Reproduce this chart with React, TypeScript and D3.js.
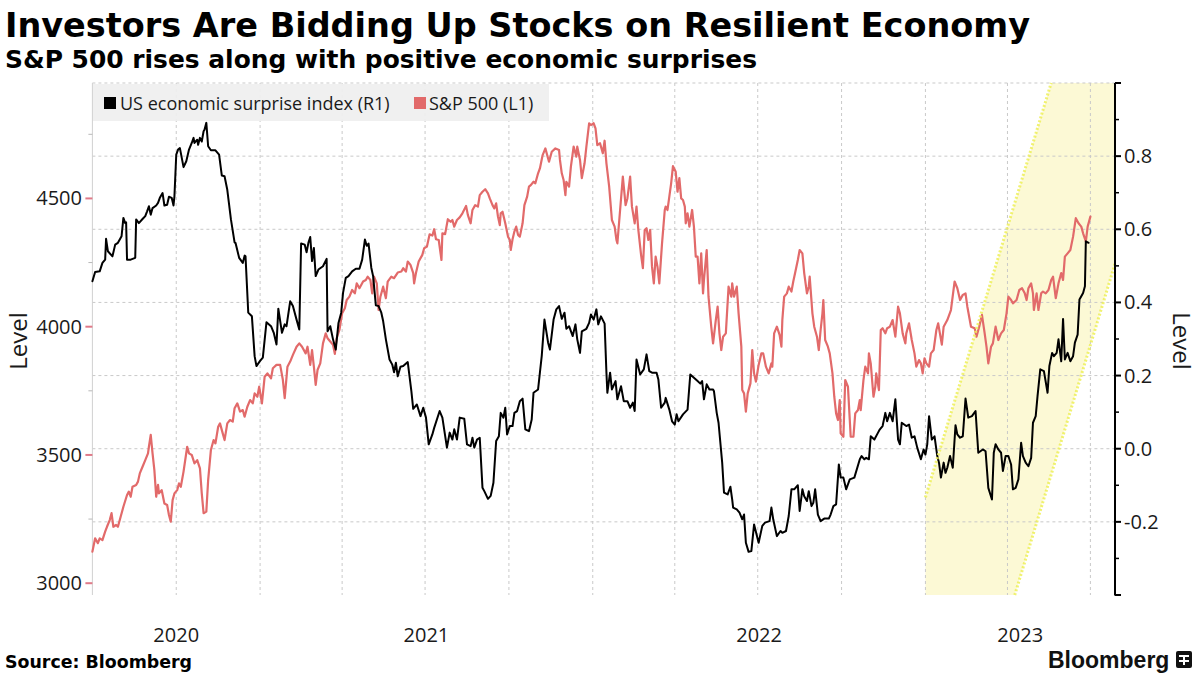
import React from "react";
import * as d3 from "d3";

const W = 1200;
const H = 675;
const M = { left: 92.4, right: 1115, top: 83, bottom: 595 };

const titleText = "Investors Are Bidding Up Stocks on Resilient Economy";
const subtitleText = "S&P 500 rises along with positive economic surprises";
const sourceText = "Source: Bloomberg";
const legendLabels = ["US economic surprise index (R1)", "S&P 500 (L1)"];
const axisTitle = "Level";

const xDomain = ["2020-07-01", "2023-07-28"];
const leftDomain = [2954, 4950];
const rightDomain = [-0.4, 1.0];
const leftMajorTicks = [3000, 3500, 4000, 4500];
const leftMinorTicks = [3250, 3750, 4250, 4750];
const rightMajorTicks = [-0.4, -0.2, 0, 0.2, 0.4, 0.6, 0.8, 1.0];
const rightLabeledTicks = [-0.2, 0, 0.2, 0.4, 0.6, 0.8];
const rightMinorTicks = [-0.3, -0.1, 0.1, 0.3, 0.5, 0.7, 0.9];
const gridValues = [-0.2, 0, 0.2, 0.4, 0.6, 0.8, 1.0];
const yearLabels = [2020, 2021, 2022, 2023];

// highlighted channel (yellow band), in date / right-axis coordinates
const channelUpper: [string, number][] = [["2023-01-01", -0.133], ["2023-05-19", 1.0]];
const channelLower: [string, number][] = [["2023-04-09", -0.4], ["2023-07-28", 0.506]];

// US economic surprise index (right axis)
const surprise: [string, number][] = [
  ["2020-07-01",0.458],["2020-07-04",0.483],["2020-07-09",0.485],["2020-07-12",0.508],["2020-07-15",0.517],["2020-07-16",0.574],["2020-07-18",0.540],["2020-07-23",0.526],["2020-07-26",0.558],["2020-07-29",0.563],["2020-07-31",0.572],["2020-08-02",0.581],["2020-08-04",0.631],["2020-08-06",0.617],["2020-08-07",0.619],["2020-08-08",0.517],["2020-08-12",0.517],["2020-08-17",0.522],["2020-08-18",0.627],["2020-08-21",0.617],["2020-08-25",0.628],["2020-08-28",0.636],["2020-08-30",0.649],["2020-09-01",0.663],["2020-09-03",0.640],["2020-09-05",0.658],["2020-09-09",0.665],["2020-09-11",0.672],["2020-09-13",0.686],["2020-09-16",0.699],["2020-09-18",0.665],["2020-09-21",0.667],["2020-09-23",0.689],["2020-09-26",0.686],["2020-09-28",0.665],["2020-09-29",0.690],["2020-10-01",0.804],["2020-10-03",0.818],["2020-10-05",0.822],["2020-10-09",0.770],["2020-10-12",0.786],["2020-10-15",0.818],["2020-10-18",0.836],["2020-10-20",0.850],["2020-10-21",0.836],["2020-10-24",0.845],["2020-10-25",0.831],["2020-10-27",0.850],["2020-10-29",0.840],["2020-10-31",0.868],["2020-11-01",0.872],["2020-11-03",0.891],["2020-11-05",0.827],["2020-11-08",0.816],["2020-11-13",0.816],["2020-11-17",0.804],["2020-11-20",0.747],["2020-11-23",0.745],["2020-11-26",0.708],["2020-11-30",0.627],["2020-12-04",0.564],["2020-12-05",0.563],["2020-12-09",0.522],["2020-12-13",0.508],["2020-12-15",0.528],["2020-12-16",0.526],["2020-12-19",0.372],["2020-12-23",0.362],["2020-12-26",0.253],["2020-12-28",0.226],
  ["2021-01-01",0.240],["2021-01-04",0.249],["2021-01-08",0.346],["2021-01-13",0.335],["2021-01-16",0.317],["2021-01-19",0.285],["2021-01-21",0.383],["2021-01-25",0.317],["2021-01-28",0.340],["2021-01-30",0.335],["2021-02-03",0.403],["2021-02-06",0.390],["2021-02-10",0.353],["2021-02-13",0.326],["2021-02-15",0.561],["2021-02-19",0.558],["2021-02-21",0.537],["2021-02-23",0.563],["2021-02-25",0.579],["2021-02-27",0.513],["2021-03-01",0.549],["2021-03-03",0.472],["2021-03-06",0.490],["2021-03-11",0.499],["2021-03-15",0.519],["2021-03-16",0.321],["2021-03-19",0.335],["2021-03-22",0.299],["2021-03-25",0.271],["2021-03-28",0.344],["2021-03-31",0.372],["2021-04-02",0.426],["2021-04-05",0.467],["2021-04-08",0.472],["2021-04-12",0.485],["2021-04-16",0.492],["2021-04-20",0.492],["2021-04-23",0.517],["2021-04-26",0.572],["2021-04-28",0.555],["2021-04-30",0.561],["2021-05-03",0.495],["2021-05-05",0.472],["2021-05-08",0.392],["2021-05-11",0.390],["2021-05-14",0.372],["2021-05-16",0.349],["2021-05-19",0.299],["2021-05-23",0.244],["2021-05-26",0.230],["2021-05-28",0.209],["2021-05-30",0.235],["2021-06-01",0.198],["2021-06-04",0.224],["2021-06-07",0.226],["2021-06-12",0.237],["2021-06-16",0.157],["2021-06-18",0.109],["2021-06-22",0.121],["2021-06-26",0.089],["2021-06-29",0.112],["2021-07-02",0.085],["2021-07-05",0.012],["2021-07-09",0.039],["2021-07-11",0.057],["2021-07-17",0.103],["2021-07-20",0.085],["2021-07-25",0.003],["2021-07-28",0.044],["2021-07-31",0.025],["2021-08-02",0.053],["2021-08-05",0.025],["2021-08-08",0.085],["2021-08-13",0.082],["2021-08-16",0.012],["2021-08-20",0.007],["2021-08-22",0.030],["2021-08-24",0.003],["2021-08-27",0.025],["2021-08-30",0.030],["2021-09-02",-0.107],["2021-09-04",-0.116],["2021-09-08",-0.137],["2021-09-11",-0.129],["2021-09-14",-0.093],["2021-09-17",0.021],["2021-09-20",0.034],["2021-09-22",0.098],["2021-09-25",0.085],["2021-09-27",0.112],["2021-09-29",0.039],["2021-10-02",0.062],["2021-10-05",0.062],["2021-10-07",0.098],["2021-10-10",0.103],["2021-10-13",0.130],["2021-10-16",0.137],["2021-10-19",0.053],["2021-10-23",0.048],["2021-10-26",0.080],["2021-10-28",0.153],["2021-11-02",0.162],["2021-11-04",0.208],["2021-11-06",0.253],["2021-11-09",0.353],["2021-11-13",0.290],["2021-11-15",0.271],["2021-11-19",0.353],["2021-11-22",0.381],["2021-11-25",0.390],["2021-11-28",0.355],["2021-12-01",0.372],["2021-12-03",0.328],["2021-12-06",0.335],["2021-12-10",0.308],["2021-12-13",0.340],["2021-12-15",0.299],["2021-12-18",0.262],["2021-12-20",0.321],["2021-12-25",0.328],["2021-12-28",0.344],["2021-12-30",0.367],
  ["2022-01-02",0.353],["2022-01-05",0.381],["2022-01-07",0.340],["2022-01-10",0.362],["2022-01-14",0.342],["2022-01-16",0.208],["2022-01-17",0.153],["2022-01-20",0.208],["2022-01-22",0.162],["2022-01-26",0.185],["2022-01-28",0.135],["2022-02-01",0.171],["2022-02-04",0.130],["2022-02-08",0.130],["2022-02-11",0.112],["2022-02-14",0.126],["2022-02-16",0.103],["2022-02-18",0.244],["2022-02-22",0.203],["2022-02-26",0.217],["2022-03-01",0.258],["2022-03-04",0.212],["2022-03-07",0.208],["2022-03-12",0.208],["2022-03-14",0.189],["2022-03-17",0.112],["2022-03-21",0.126],["2022-03-22",0.139],["2022-03-26",0.107],["2022-03-29",0.075],["2022-04-01",0.066],["2022-04-03",0.094],["2022-04-05",0.075],["2022-04-10",0.094],["2022-04-15",0.107],["2022-04-18",0.203],["2022-04-22",0.194],["2022-04-26",0.185],["2022-04-29",0.178],["2022-05-01",0.185],["2022-05-03",0.135],["2022-05-06",0.176],["2022-05-09",0.162],["2022-05-13",0.162],["2022-05-14",0.157],["2022-05-17",0.098],["2022-05-19",0.071],["2022-05-23",-0.038],["2022-05-25",-0.120],["2022-05-29",-0.125],["2022-06-01",-0.104],["2022-06-03",-0.139],["2022-06-04",-0.161],["2022-06-08",-0.166],["2022-06-11",-0.175],["2022-06-14",-0.193],["2022-06-16",-0.180],["2022-06-18",-0.257],["2022-06-21",-0.282],["2022-06-24",-0.280],["2022-06-27",-0.207],["2022-07-02",-0.257],["2022-07-06",-0.211],["2022-07-09",-0.202],["2022-07-14",-0.198],["2022-07-16",-0.161],["2022-07-18",-0.193],["2022-07-22",-0.239],["2022-07-26",-0.225],["2022-07-28",-0.230],["2022-08-01",-0.225],["2022-08-04",-0.184],["2022-08-07",-0.111],["2022-08-10",-0.111],["2022-08-14",-0.100],["2022-08-16",-0.170],["2022-08-19",-0.111],["2022-08-21",-0.130],["2022-08-24",-0.143],["2022-08-26",-0.116],["2022-08-29",-0.157],["2022-08-31",-0.148],["2022-09-02",-0.111],["2022-09-05",-0.180],["2022-09-08",-0.198],["2022-09-12",-0.191],["2022-09-17",-0.191],["2022-09-19",-0.180],["2022-09-22",-0.157],["2022-09-25",-0.152],["2022-09-28",-0.043],["2022-09-30",-0.079],["2022-10-03",-0.079],["2022-10-06",-0.111],["2022-10-10",-0.084],["2022-10-15",-0.079],["2022-10-21",-0.029],["2022-10-23",-0.020],["2022-10-26",-0.029],["2022-10-28",-0.025],["2022-10-31",-0.029],["2022-11-02",0.034],["2022-11-06",0.025],["2022-11-10",0.044],["2022-11-12",0.053],["2022-11-15",0.062],["2022-11-18",0.098],["2022-11-20",0.075],["2022-11-23",0.098],["2022-11-26",0.075],["2022-11-29",0.135],["2022-12-02",0.025],["2022-12-04",0.012],["2022-12-06",0.071],["2022-12-11",0.062],["2022-12-14",0.066],["2022-12-17",0.030],["2022-12-20",0.034],["2022-12-23",0.003],["2022-12-27",-0.029],["2022-12-30",-0.002],
  ["2023-01-01",-0.016],["2023-01-03",0.012],["2023-01-05",0.089],["2023-01-08",0.025],["2023-01-11",0.034],["2023-01-14",-0.020],["2023-01-16",-0.040],["2023-01-18",-0.079],["2023-01-21",-0.038],["2023-01-23",-0.066],["2023-01-25",-0.052],["2023-01-28",-0.020],["2023-01-31",-0.052],["2023-02-03",0.064],["2023-02-05",0.039],["2023-02-08",0.030],["2023-02-11",0.034],["2023-02-14",0.137],["2023-02-17",0.085],["2023-02-21",0.089],["2023-02-25",0.103],["2023-02-28",-0.011],["2023-03-05",-0.002],["2023-03-08",-0.007],["2023-03-11",-0.107],["2023-03-15",-0.139],["2023-03-17",-0.011],["2023-03-19",0.012],["2023-03-22",-0.002],["2023-03-25",-0.011],["2023-03-27",-0.061],["2023-03-30",-0.020],["2023-04-02",-0.020],["2023-04-05",-0.043],["2023-04-07",-0.111],["2023-04-10",-0.107],["2023-04-13",-0.084],["2023-04-16",0.016],["2023-04-18",-0.020],["2023-04-21",-0.038],["2023-04-24",-0.048],["2023-04-27",-0.025],["2023-04-29",0.071],["2023-05-02",0.089],["2023-05-04",0.144],["2023-05-07",0.217],["2023-05-11",0.212],["2023-05-15",0.153],["2023-05-17",0.226],["2023-05-20",0.262],["2023-05-22",0.253],["2023-05-25",0.262],["2023-05-27",0.299],["2023-05-30",0.239],["2023-06-01",0.355],["2023-06-03",0.244],["2023-06-06",0.262],["2023-06-09",0.239],["2023-06-12",0.253],["2023-06-14",0.290],["2023-06-17",0.312],["2023-06-19",0.408],["2023-06-23",0.426],["2023-06-25",0.444],["2023-06-26",0.567],["2023-06-29",0.563]
];

// S&P 500 (left axis)
const spx: [string, number][] = [
  ["2020-07-01",3123],["2020-07-04",3175],["2020-07-07",3156],["2020-07-09",3175],["2020-07-12",3168],["2020-07-15",3201],["2020-07-17",3220],["2020-07-20",3246],["2020-07-22",3273],["2020-07-24",3220],["2020-07-27",3227],["2020-07-29",3220],["2020-08-01",3259],["2020-08-04",3298],["2020-08-08",3344],["2020-08-10",3357],["2020-08-12",3337],["2020-08-14",3376],["2020-08-18",3383],["2020-08-20",3396],["2020-08-22",3428],["2020-08-25",3454],["2020-08-28",3480],["2020-08-31",3506],["2020-09-01",3532],["2020-09-03",3578],["2020-09-05",3506],["2020-09-07",3441],["2020-09-09",3337],["2020-09-11",3383],["2020-09-12",3350],["2020-09-15",3363],["2020-09-18",3311],["2020-09-21",3305],["2020-09-23",3266],["2020-09-25",3240],["2020-09-27",3324],["2020-09-29",3350],["2020-10-02",3363],["2020-10-04",3389],["2020-10-06",3376],["2020-10-09",3435],["2020-10-13",3532],["2020-10-15",3506],["2020-10-18",3500],["2020-10-21",3467],["2020-10-24",3480],["2020-10-27",3448],["2020-10-29",3350],["2020-10-31",3273],["2020-11-03",3279],["2020-11-05",3402],["2020-11-08",3519],["2020-11-11",3558],["2020-11-13",3545],["2020-11-16",3610],["2020-11-18",3623],["2020-11-21",3584],["2020-11-23",3558],["2020-11-26",3623],["2020-11-29",3636],["2020-12-02",3630],["2020-12-04",3682],["2020-12-07",3701],["2020-12-10",3669],["2020-12-13",3675],["2020-12-15",3649],["2020-12-18",3688],["2020-12-21",3714],["2020-12-24",3701],["2020-12-26",3740],["2020-12-29",3727],["2020-12-31",3766],
  ["2021-01-03",3701],["2021-01-06",3805],["2021-01-09",3818],["2021-01-13",3799],["2021-01-15",3838],["2021-01-19",3851],["2021-01-23",3851],["2021-01-26",3792],["2021-01-28",3721],["2021-01-31",3844],["2021-02-03",3864],["2021-02-06",3890],["2021-02-10",3922],["2021-02-13",3935],["2021-02-16",3922],["2021-02-20",3896],["2021-02-22",3922],["2021-02-25",3851],["2021-02-27",3909],["2021-03-01",3844],["2021-03-03",3773],["2021-03-05",3831],["2021-03-08",3857],["2021-03-11",3935],["2021-03-14",3974],["2021-03-16",3955],["2021-03-19",3942],["2021-03-22",3929],["2021-03-24",3894],["2021-03-26",3955],["2021-03-29",3987],["2021-04-01",4052],["2021-04-04",4072],["2021-04-06",4104],["2021-04-09",4117],["2021-04-12",4143],["2021-04-15",4130],["2021-04-17",4169],["2021-04-20",4150],["2021-04-24",4176],["2021-04-27",4182],["2021-04-29",4195],["2021-05-02",4182],["2021-05-04",4130],["2021-05-06",4195],["2021-05-09",4169],["2021-05-11",4065],["2021-05-13",4117],["2021-05-16",4156],["2021-05-19",4111],["2021-05-21",4176],["2021-05-25",4195],["2021-05-28",4189],["2021-06-01",4211],["2021-06-05",4215],["2021-06-07",4228],["2021-06-10",4215],["2021-06-12",4254],["2021-06-15",4241],["2021-06-18",4209],["2021-06-19",4169],["2021-06-21",4209],["2021-06-24",4254],["2021-06-28",4280],["2021-06-30",4306],["2021-07-03",4312],["2021-07-06",4360],["2021-07-09",4355],["2021-07-11",4380],["2021-07-13",4341],["2021-07-16",4338],["2021-07-19",4260],["2021-07-20",4364],["2021-07-23",4361],["2021-07-26",4419],["2021-07-29",4409],["2021-07-31",4416],["2021-08-02",4390],["2021-08-05",4416],["2021-08-08",4426],["2021-08-11",4442],["2021-08-15",4471],["2021-08-17",4435],["2021-08-20",4403],["2021-08-22",4455],["2021-08-25",4474],["2021-08-28",4468],["2021-08-30",4513],["2021-09-02",4526],["2021-09-05",4536],["2021-09-08",4520],["2021-09-10",4500],["2021-09-13",4474],["2021-09-15",4461],["2021-09-17",4481],["2021-09-19",4429],["2021-09-21",4396],["2021-09-22",4442],["2021-09-24",4448],["2021-09-27",4403],["2021-09-30",4351],["2021-10-02",4338],["2021-10-03",4299],["2021-10-05",4341],["2021-10-07",4371],["2021-10-09",4390],["2021-10-11",4358],["2021-10-13",4351],["2021-10-16",4403],["2021-10-18",4474],["2021-10-21",4507],["2021-10-23",4546],["2021-10-25",4552],["2021-10-28",4565],["2021-10-30",4559],["2021-11-02",4598],["2021-11-04",4617],["2021-11-07",4669],["2021-11-10",4695],["2021-11-13",4656],["2021-11-14",4643],["2021-11-17",4682],["2021-11-21",4695],["2021-11-25",4689],["2021-11-26",4650],["2021-11-28",4598],["2021-11-30",4572],["2021-12-02",4513],["2021-12-03",4565],["2021-12-06",4546],["2021-12-08",4624],["2021-12-11",4702],["2021-12-14",4663],["2021-12-15",4702],["2021-12-18",4650],["2021-12-20",4579],["2021-12-23",4637],["2021-12-25",4702],["2021-12-28",4793],["2021-12-30",4786],
  ["2022-01-02",4793],["2022-01-04",4773],["2022-01-06",4708],["2022-01-09",4715],["2022-01-12",4676],["2022-01-14",4725],["2022-01-16",4637],["2022-01-19",4546],["2022-01-22",4416],["2022-01-25",4390],["2022-01-27",4338],["2022-01-28",4325],["2022-01-31",4455],["2022-02-03",4585],["2022-02-06",4474],["2022-02-08",4500],["2022-02-11",4585],["2022-02-13",4468],["2022-02-16",4403],["2022-02-18",4468],["2022-02-20",4377],["2022-02-23",4280],["2022-02-25",4228],["2022-02-27",4377],["2022-03-01",4384],["2022-03-03",4338],["2022-03-05",4377],["2022-03-07",4234],["2022-03-09",4169],["2022-03-11",4273],["2022-03-13",4234],["2022-03-15",4169],["2022-03-18",4325],["2022-03-21",4455],["2022-03-22",4468],["2022-03-24",4455],["2022-03-26",4507],["2022-03-28",4559],["2022-03-30",4626],["2022-04-02",4604],["2022-04-04",4526],["2022-04-06",4579],["2022-04-08",4500],["2022-04-10",4494],["2022-04-12",4468],["2022-04-13",4403],["2022-04-15",4442],["2022-04-17",4390],["2022-04-20",4455],["2022-04-22",4390],["2022-04-24",4273],["2022-04-26",4273],["2022-04-28",4169],["2022-04-30",4286],["2022-05-02",4130],["2022-05-03",4182],["2022-05-06",4299],["2022-05-08",4117],["2022-05-11",4000],["2022-05-13",3935],["2022-05-16",4026],["2022-05-18",4078],["2022-05-20",3974],["2022-05-22",3909],["2022-05-24",3961],["2022-05-27",3974],["2022-05-30",4156],["2022-06-02",4117],["2022-06-03",4169],["2022-06-05",4117],["2022-06-08",4156],["2022-06-10",4052],["2022-06-13",3922],["2022-06-14",3753],["2022-06-16",3740],["2022-06-18",3669],["2022-06-20",3740],["2022-06-23",3779],["2022-06-25",3909],["2022-06-27",3818],["2022-06-29",3786],["2022-07-02",3851],["2022-07-05",3896],["2022-07-07",3896],["2022-07-10",3844],["2022-07-13",3818],["2022-07-16",3857],["2022-07-17",3844],["2022-07-19",3974],["2022-07-22",4000],["2022-07-25",3968],["2022-07-27",3922],["2022-07-28",4026],["2022-07-30",4117],["2022-08-02",4130],["2022-08-04",4156],["2022-08-07",4137],["2022-08-09",4176],["2022-08-11",4209],["2022-08-14",4260],["2022-08-16",4299],["2022-08-19",4286],["2022-08-21",4209],["2022-08-24",4130],["2022-08-26",4156],["2022-08-27",4195],["2022-08-30",4052],["2022-09-01",4000],["2022-09-04",3961],["2022-09-06",3909],["2022-09-08",3987],["2022-09-10",4052],["2022-09-11",4104],["2022-09-13",3948],["2022-09-16",3922],["2022-09-18",3896],["2022-09-21",3818],["2022-09-23",3727],["2022-09-25",3662],["2022-09-27",3636],["2022-09-29",3714],["2022-09-30",3584],["2022-10-03",3571],["2022-10-05",3792],["2022-10-08",3766],["2022-10-10",3636],["2022-10-11",3571],["2022-10-14",3571],["2022-10-16",3662],["2022-10-19",3675],["2022-10-21",3714],["2022-10-22",3675],["2022-10-25",3792],["2022-10-27",3844],["2022-10-30",3818],["2022-10-31",3896],["2022-11-02",3857],["2022-11-05",3727],["2022-11-07",3766],["2022-11-08",3818],["2022-11-11",3753],["2022-11-13",3987],["2022-11-15",3994],["2022-11-18",3974],["2022-11-20",3994],["2022-11-23",4000],["2022-11-26",4026],["2022-11-29",3961],["2022-12-02",4078],["2022-12-04",4052],["2022-12-07",3974],["2022-12-10",3935],["2022-12-11",3974],["2022-12-14",4013],["2022-12-17",3948],["2022-12-20",3896],["2022-12-22",3844],["2022-12-25",3870],["2022-12-27",3857],["2022-12-29",3818],["2022-12-31",3877],
  ["2023-01-02",3857],["2023-01-05",3844],["2023-01-07",3896],["2023-01-10",3909],["2023-01-13",3987],["2023-01-15",4013],["2023-01-19",3930],["2023-01-21",4000],["2023-01-25",4026],["2023-01-29",4065],["2023-02-02",4176],["2023-02-05",4150],["2023-02-08",4104],["2023-02-11",4124],["2023-02-14",4130],["2023-02-16",4078],["2023-02-20",4000],["2023-02-24",3994],["2023-02-26",3961],["2023-03-01",4000],["2023-03-04",4046],["2023-03-07",3974],["2023-03-09",3922],["2023-03-11",3857],["2023-03-14",3922],["2023-03-16",3935],["2023-03-19",4000],["2023-03-22",3948],["2023-03-25",3974],["2023-03-28",3987],["2023-03-31",4052],["2023-04-02",4117],["2023-04-05",4104],["2023-04-07",4091],["2023-04-11",4104],["2023-04-14",4143],["2023-04-17",4150],["2023-04-20",4130],["2023-04-22",4104],["2023-04-24",4150],["2023-04-27",4169],["2023-04-29",4130],["2023-04-30",4065],["2023-05-03",4130],["2023-05-05",4065],["2023-05-08",4130],["2023-05-10",4137],["2023-05-13",4130],["2023-05-16",4143],["2023-05-19",4182],["2023-05-21",4195],["2023-05-24",4111],["2023-05-27",4169],["2023-05-30",4209],["2023-06-01",4182],["2023-06-03",4273],["2023-06-06",4286],["2023-06-09",4299],["2023-06-12",4351],["2023-06-15",4423],["2023-06-18",4403],["2023-06-21",4390],["2023-06-23",4364],["2023-06-26",4332],["2023-06-28",4390],["2023-07-01",4429]
];

const COLORS = {
  black: "#000000",
  red: "#e26a6a",
  grid: "#c9c9c9",
  legendBg: "#efefef",
  bandFill: "#fcf9d5",
  bandEdge: "#eef05a",
  leftTick: "#e07a88",
  text: "#1a1a1a",
};

const SANS = "'Open Sans', 'Noto Sans', sans-serif";
const BOLD = "'DejaVu Sans', Verdana, sans-serif";

const parse = d3.utcParse("%Y-%m-%d");
const fmtR = (v: number) => (v < 0 ? "-" : "") + Math.abs(v).toFixed(1);

export default function App() {
  const x = d3
    .scaleUtc()
    .domain(xDomain.map((s) => parse(s) as Date))
    .range([M.left, M.right]);
  const yL = d3.scaleLinear().domain(leftDomain).range([M.bottom, M.top]);
  const yR = d3.scaleLinear().domain(rightDomain).range([M.bottom, M.top]);

  const spxPts = spx.map(([d, v]) => [parse(d) as Date, v] as [Date, number]);
  const surPts = surprise.map(([d, v]) => [parse(d) as Date, v] as [Date, number]);

  const lineL = d3
    .line<[Date, number]>()
    .x((d) => x(d[0]))
    .y((d) => yL(d[1]));
  const lineR = d3
    .line<[Date, number]>()
    .x((d) => x(d[0]))
    .y((d) => yR(d[1]));

  const [d0, d1] = x.domain();
  const quarterLines = d3.utcMonth.every(3)!.range(d3.utcDay.offset(d0, 1), d1);

  const yearMids = yearLabels.map((yr) => {
    const a = new Date(Date.UTC(yr, 0, 1));
    const b = new Date(Date.UTC(yr + 1, 0, 1));
    const s = a < d0 ? d0 : a;
    const e = b > d1 ? d1 : b;
    return { yr, cx: (x(s) + x(e)) / 2 };
  });

  const P = (d: string, v: number) => [x(parse(d) as Date), yR(v)];
  const band = [
    P(channelUpper[0][0], rightDomain[0]),
    P(channelUpper[0][0], channelUpper[0][1]),
    P(channelUpper[1][0], channelUpper[1][1]),
    P(xDomain[1], rightDomain[1]),
    P(channelLower[1][0], channelLower[1][1]),
    P(channelLower[0][0], channelLower[0][1]),
  ];
  const upperEdge = channelUpper.map(([d, v]) => P(d, v));
  const lowerEdge = channelLower.map(([d, v]) => P(d, v));

  const legendY = 97;
  const legendX1 = 104;
  const legendX2 = 414;
  const midY = (M.top + M.bottom) / 2 + 2;

  return (
    <svg
      width={W}
      height={H}
      viewBox={`0 0 ${W} ${H}`}
      style={{ position: "absolute", left: 0, top: 0, background: "#fff" }}
    >
      <rect x={0} y={0} width={W} height={H} fill="#ffffff" />

      {/* Titles */}
      <text x={5} y={37} fontFamily={BOLD} fontWeight="bold" fontSize={33} fill="#000"
        textLength={1025} lengthAdjust="spacingAndGlyphs">
        {titleText}
      </text>
      <text x={5} y={68} fontFamily={BOLD} fontWeight="bold" fontSize={24.5} fill="#000"
        textLength={752} lengthAdjust="spacingAndGlyphs">
        {subtitleText}
      </text>

      {/* Yellow channel fill */}
      <polygon points={band.map((p) => p.join(",")).join(" ")} fill={COLORS.bandFill} />

      {/* Gridlines */}
      {gridValues.map((v) => (
        <line key={"hg" + v} x1={M.left} x2={M.right} y1={yR(v)} y2={yR(v)}
          stroke={COLORS.grid} strokeWidth={1} strokeDasharray="3,3" />
      ))}
      {quarterLines.map((d) => (
        <line key={"vg" + d.toISOString()} x1={x(d)} x2={x(d)} y1={M.top} y2={M.bottom}
          stroke={COLORS.grid} strokeWidth={1} strokeDasharray="3,3" />
      ))}

      {/* Left axis line */}
      <line x1={M.left} x2={M.left} y1={M.top} y2={M.bottom} stroke="#d0d0d0" strokeWidth={1} />

      {/* Legend */}
      <rect x={M.left + 0.6} y={M.top + 1} width={456} height={37} fill={COLORS.legendBg} opacity={0.92} />
      <rect x={legendX1} y={legendY} width={12} height={12} fill={COLORS.black} />
      <text x={legendX1 + 16} y={legendY + 12.5} fontFamily={SANS} fontSize={18} fill={COLORS.text}>
        {legendLabels[0]}
      </text>
      <rect x={legendX2} y={legendY} width={12} height={12} fill={COLORS.red} />
      <text x={legendX2 + 15} y={legendY + 12.5} fontFamily={SANS} fontSize={18} fill={COLORS.text}>
        {legendLabels[1]}
      </text>

      {/* Data lines */}
      <path d={lineL(spxPts) || ""} fill="none" stroke={COLORS.red} strokeWidth={2.2}
        strokeLinejoin="round" strokeLinecap="round" />
      <path d={lineR(surPts) || ""} fill="none" stroke={COLORS.black} strokeWidth={2}
        strokeLinejoin="round" strokeLinecap="round" />

      {/* Channel edges (dotted) */}
      <line x1={upperEdge[0][0]} y1={upperEdge[0][1]} x2={upperEdge[1][0]} y2={upperEdge[1][1]}
        stroke={COLORS.bandEdge} strokeWidth={3} strokeDasharray="2,2" opacity={0.85} />
      <line x1={lowerEdge[0][0]} y1={lowerEdge[0][1]} x2={lowerEdge[1][0]} y2={lowerEdge[1][1]}
        stroke={COLORS.bandEdge} strokeWidth={3} strokeDasharray="2,2" opacity={0.85} />

      {/* Left axis ticks and labels */}
      {leftMinorTicks.map((v) => (
        <line key={"lm" + v} x1={M.left - 4} x2={M.left} y1={yL(v)} y2={yL(v)} stroke="#b8b8b8" strokeWidth={1} />
      ))}
      {leftMajorTicks.map((v) => (
        <g key={"lM" + v}>
          <line x1={M.left - 7} x2={M.left} y1={yL(v)} y2={yL(v)} stroke={COLORS.leftTick} strokeWidth={2} />
          <text x={82} y={yL(v) + 7} textAnchor="end" fontFamily={SANS} fontSize={20} fill={COLORS.text}>
            {v}
          </text>
        </g>
      ))}

      {/* Right axis */}
      <line x1={M.right} x2={M.right} y1={M.top} y2={M.bottom + 0.5} stroke="#000" strokeWidth={2} />
      {rightMinorTicks.map((v) => (
        <line key={"rm" + v} x1={M.right} x2={M.right + 4} y1={yR(v)} y2={yR(v)} stroke="#000" strokeWidth={1.5} />
      ))}
      {rightMajorTicks.map((v) => (
        <line key={"rM" + v} x1={M.right} x2={M.right + 6} y1={yR(v)} y2={yR(v)} stroke="#000" strokeWidth={2} />
      ))}
      {rightLabeledTicks.map((v) => (
        <text key={"rl" + v} x={M.right + 9} y={yR(v) + 7} fontFamily={SANS} fontSize={20} fill={COLORS.text}>
          {fmtR(v)}
        </text>
      ))}

      {/* Axis titles */}
      <text transform={`translate(27, ${midY}) rotate(-90)`} textAnchor="middle"
        fontFamily={SANS} fontSize={24} fill={COLORS.text}>
        {axisTitle}
      </text>
      <text transform={`translate(1173, ${midY}) rotate(90)`} textAnchor="middle"
        fontFamily={SANS} fontSize={24} fill={COLORS.text}>
        {axisTitle}
      </text>

      {/* Year labels */}
      {yearMids.map(({ yr, cx }) => (
        <text key={"yr" + yr} x={cx} y={642} textAnchor="middle" fontFamily={SANS} fontSize={20} fill={COLORS.text}>
          {yr}
        </text>
      ))}

      {/* Source & logo */}
      <text x={5} y={668} fontFamily={BOLD} fontWeight="bold" fontSize={17.4} fill="#000">
        {sourceText}
      </text>
      <text x={1048} y={668} fontFamily="'Liberation Sans', Arial, sans-serif" fontWeight="bold" fontSize={23} fill="#111">
        Bloomberg
      </text>
      <g transform="translate(1176, 651)">
        <rect x={0} y={0} width={16} height={17} rx={2} fill="#111" />
        <rect x={3} y={4} width={10} height={2} fill="#fff" />
        <rect x={3} y={9} width={10} height={2} fill="#fff" />
        <rect x={7} y={4} width={2} height={10} fill="#fff" />
      </g>
    </svg>
  );
}
